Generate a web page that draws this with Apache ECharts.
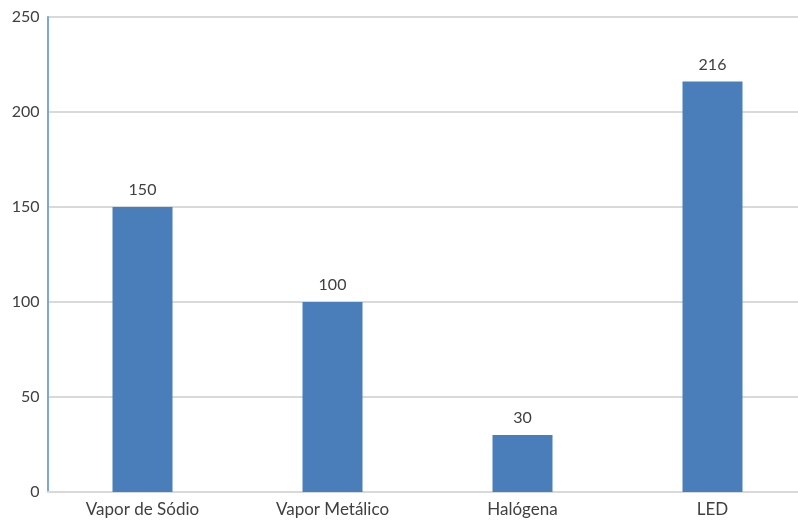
<!DOCTYPE html>
<html><head><meta charset="utf-8">
<script src="https://cdn.jsdelivr.net/npm/echarts@6/dist/echarts.min.js"></script>
<style>html,body{margin:0;padding:0;background:#fff}#c{width:798px;height:520px}</style>
</head><body><div id="c"></div>
<script>
const categories = ['Vapor de Sódio', 'Vapor Metálico', 'Halógena', 'LED'];
const values = [150, 100, 30, 216];
const yTicks = [0, 50, 100, 150, 200, 250];

const chart = echarts.init(document.getElementById('c'), null, {renderer: 'canvas'});
chart.setOption({
  animation: false,
  grid: {left: 47.5, width: 760, top: 17, bottom: 28, containLabel: false, outerBoundsMode: 'none'},
  xAxis: {
    type: 'category', data: categories,
    axisLine: {lineStyle: {color: '#d9d9d9', width: 2}},
    axisTick: {show: false},
    axisLabel: {color: '#404040', fontFamily: 'Lato', fontSize: 17, margin: 9}
  },
  yAxis: {
    type: 'value', min: yTicks[0], max: yTicks[yTicks.length - 1], interval: 50,
    axisLine: {show: true, lineStyle: {color: '#7ea6d6', width: 2}},
    axisTick: {show: false},
    splitLine: {lineStyle: {color: '#d9d9d9', width: 2}},
    axisLabel: {color: '#404040', fontFamily: 'Lato', fontSize: 16, margin: 8}
  },
  series: [{
    type: 'bar', data: values, barWidth: 60,
    itemStyle: {color: '#4a7ebb'},
    label: {show: true, position: 'top', distance: 9, color: '#404040', fontFamily: 'Lato', fontSize: 16}
  }]
});
</script></body></html>
